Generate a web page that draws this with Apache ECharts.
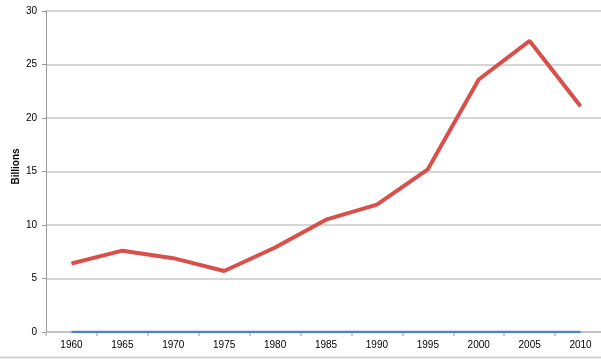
<!DOCTYPE html>
<html>
<head>
<meta charset="utf-8">
<script src="https://cdn.jsdelivr.net/npm/echarts@6/dist/echarts.min.js"></script>
<style>html,body{margin:0;padding:0;background:#fff}#c{width:601px;height:359px}</style>
</head>
<body>
<div id="c"></div>
<script>
var categories = ['1960','1965','1970','1975','1980','1985','1990','1995','2000','2005','2010'];
var redValues = [6.4, 7.6, 6.9, 5.7, 7.9, 10.5, 11.9, 15.2, 23.6, 27.2, 21.1];
var blueValues = [0, 0, 0, 0, 0, 0, 0, 0, 0, 0, 0];
var yTicks = [0, 5, 10, 15, 20, 25, 30];

var chart = echarts.init(document.getElementById('c'));
var font = '"Liberation Sans Narrow", "Liberation Sans", sans-serif';
chart.setOption({
  animation: false,
  grid: {left: 46, right: -5, top: 11, bottom: 27, containLabel: false, outerBoundsMode: 'none'},
  xAxis: {
    type: 'category',
    data: categories,
    boundaryGap: true,
    axisLine: {show: true, lineStyle: {color: '#bdbdbd', width: 1.5}},
    axisTick: {show: true, alignWithLabel: false, length: 4, lineStyle: {color: '#bdbdbd', width: 1.5}},
    axisLabel: {color: '#000', fontSize: 10, fontFamily: font, margin: 8},
    splitLine: {show: false}
  },
  yAxis: {
    type: 'value',
    min: yTicks[0], max: yTicks[yTicks.length - 1], interval: 5,
    name: 'Billions',
    nameLocation: 'middle',
    nameGap: 25,
    nameRotate: 90,
    nameMoveOverlap: false,
    nameTextStyle: {color: '#000', fontSize: 10, fontWeight: 'bold', fontFamily: font, padding: [0, 0, 0, 10]},
    axisLine: {show: true, lineStyle: {color: '#999999', width: 1}},
    axisTick: {show: true, length: 4, lineStyle: {color: '#999999'}},
    axisLabel: {color: '#000', fontSize: 10, fontFamily: font, margin: 9},
    splitLine: {show: true, lineStyle: {color: '#c8c8c8', width: 1.5}}
  },
  graphic: [{
    type: 'line', shape: {x1: 0, y1: 357.5, x2: 601, y2: 357.5},
    style: {stroke: '#d0d0d0', lineWidth: 2}, silent: true
  }],
  series: [
    {type: 'line', data: blueValues, symbol: 'none', lineStyle: {color: '#4a86c6', width: 2.5}, z: 3},
    {type: 'line', data: redValues, symbol: 'none', lineStyle: {color: '#d9504b', width: 4}, z: 4}
  ]
});
</script>
</body>
</html>
